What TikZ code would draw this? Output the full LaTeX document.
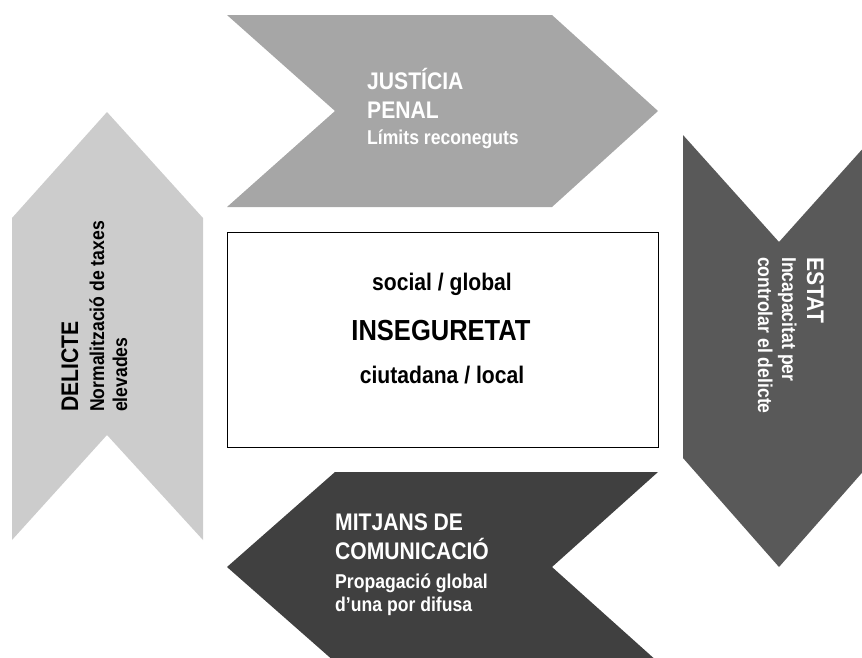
\documentclass[tikz,border=0pt]{standalone}
\usepackage{fontspec}
\setmainfont{Liberation Sans}[FakeStretch=0.88]
\definecolor{justgray}{HTML}{A6A6A6}
\definecolor{estatgray}{HTML}{595959}
\definecolor{delgray}{HTML}{CCCCCC}
\definecolor{mitjgray}{HTML}{404040}
\begin{document}
\begin{tikzpicture}[x=1pt,y=-1pt,
  titletext/.style={font=\bfseries\fontsize{24}{24}\selectfont, inner sep=0pt, anchor=base west},
  subtext/.style={font=\bfseries\fontsize{20}{20}\selectfont, inner sep=0pt, anchor=base west},
  centretext/.style={font=\bfseries\fontsize{24}{24}\selectfont, inner sep=0pt, anchor=base},
  bigtext/.style={font=\bfseries\fontsize{29}{29}\selectfont, inner sep=0pt, anchor=base},
  ontop/.style={text=white}]
\useasboundingbox (0,0) rectangle (862,657);
\clip (0,0) rectangle (862,657);
% arrows
\fill[justgray] (227,15) -- (552,15) -- (658,111) -- (552,207) -- (227,207) -- (335,111) -- cycle;
\fill[estatgray] (683,135) -- (779,242) -- (875,135) -- (875,458) -- (779,567) -- (683,458) -- cycle;
\fill[delgray] (12,218) -- (107,112) -- (203,218) -- (203,540) -- (107,435) -- (12,540) -- cycle;
\fill[mitjgray] (335,472) -- (658,472) -- (552,567) -- (658,662) -- (335,662) -- (227,567) -- cycle;
% centre box
\node[draw=black, line width=0.8pt, fill=white, minimum width=431pt, minimum height=215pt, inner sep=0pt] (box) at (442.5,339.5) {};
\node[centretext] (soc) at (442,290) {social / global};
\node[bigtext] (inseg) at (441,340) {INSEGURETAT};
\node[centretext] (ciut) at (442,383) {ciutadana / local};
% JUSTICIA
\node[titletext, ontop] (j1) at (367,89) {JUSTÍCIA};
\node[titletext, ontop] (j2) at (367,118) {PENAL};
\node[subtext, ontop] (j3) at (367,144) {Límits reconeguts};
% MITJANS
\node[titletext, ontop] (m1) at (335,530) {MITJANS DE};
\node[titletext, ontop] (m2) at (335,559) {COMUNICACIÓ};
\node[subtext, ontop] (m3) at (335,588) {Propagació global};
\node[subtext, ontop] (m4) at (335,611) {d’una por difusa};
% DELICTE
\node[titletext, rotate=90] (d1) at (78,412) {DELICTE};
\node[subtext, rotate=90] (d2) at (104,412) {Normalització de taxes};
\node[subtext, rotate=90] (d3) at (127,412) {elevades};
% ESTAT
\node[titletext, ontop, rotate=-90] (e1) at (807,257) {ESTAT};
\node[subtext, ontop, rotate=-90] (e2) at (782,257) {Incapacitat per};
\node[subtext, ontop, rotate=-90] (e3) at (758,257) {controlar el delicte};
\end{tikzpicture}
\end{document}
